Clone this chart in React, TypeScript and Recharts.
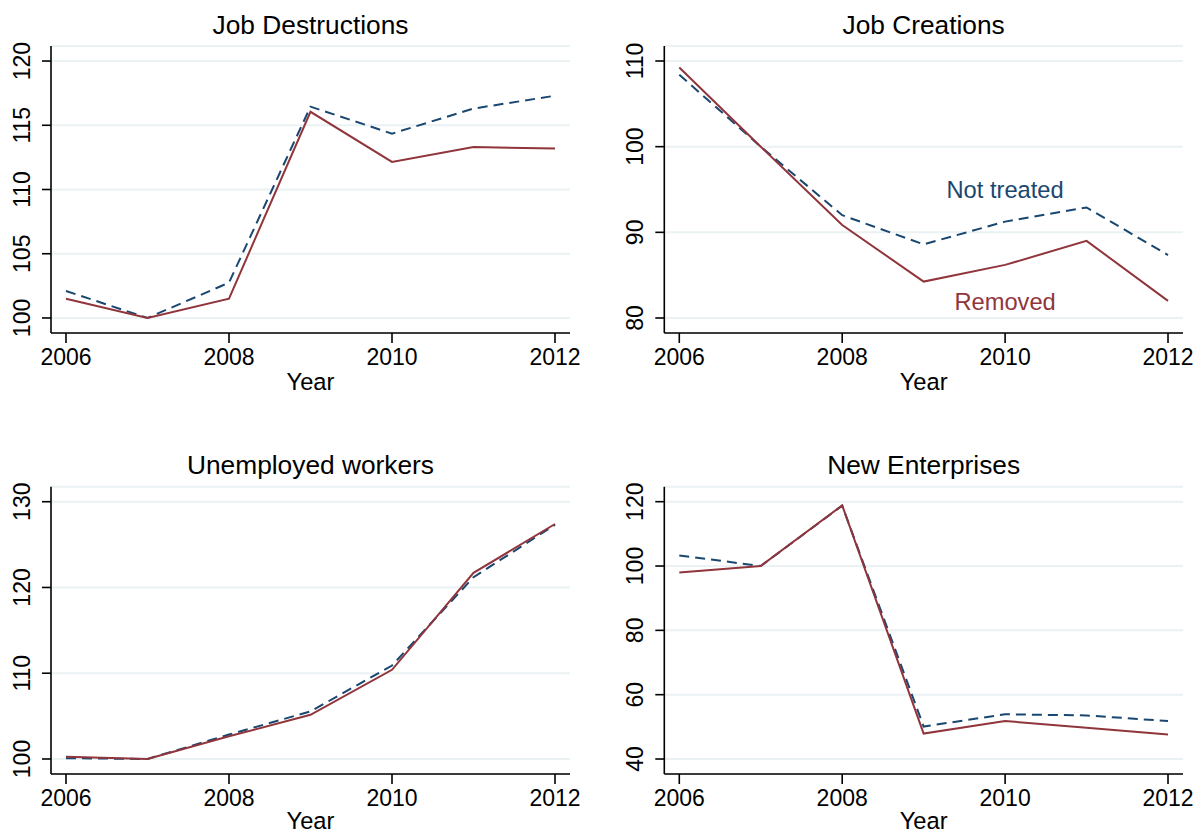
import React from 'react';
import { LineChart, Line, XAxis, YAxis, CartesianGrid, ReferenceDot } from 'recharts';

const years = [2006, 2007, 2008, 2009, 2010, 2011, 2012];
const yearTicks = [2006, 2008, 2010, 2012];

const destructionsNotTreated = [102.1, 100.0, 102.75, 116.45, 114.35, 116.3, 117.3];
const destructionsRemoved = [101.5, 100.0, 101.5, 116.05, 112.15, 113.3, 113.2];
const creationsNotTreated = [108.4, 100.0, 92.0, 88.6, 91.25, 92.9, 87.35];
const creationsRemoved = [109.25, 100.0, 90.85, 84.25, 86.2, 89.0, 82.0];
const unemployedNotTreated = [100.1, 100.0, 102.85, 105.55, 110.9, 121.2, 127.3];
const unemployedRemoved = [100.25, 100.0, 102.65, 105.15, 110.4, 121.7, 127.4];
const enterprisesNotTreated = [103.3, 100.0, 118.75, 50.1, 53.9, 53.55, 51.8];
const enterprisesRemoved = [98.0, 100.0, 118.85, 47.9, 51.8, 49.75, 47.65];

const destructionsTicks = [100, 105, 110, 115, 120];
const creationsTicks = [80, 90, 100, 110];
const unemployedTicks = [100, 110, 120, 130];
const enterprisesTicks = [40, 60, 80, 100, 120];

const NAVY = '#1a476f';
const MAROON = '#90353b';
const GRID = '#eaf2f3';
const FONT = '"Liberation Sans", Arial, Helvetica, sans-serif';

const BOX_W = 600;
const BOX_H = 420;
const Y_AXIS_W = 45;
const X_AXIS_H = 40;

const YTick = (props: any) => {
  const { x, y, payload } = props;
  return (
    <text
      x={0}
      y={0}
      transform={`translate(${x},${y}) rotate(-90)`}
      textAnchor="middle"
      dy="0.36em"
      fontSize={23}
      fontFamily={FONT}
      fill="#000"
    >
      {payload.value}
    </text>
  );
};

interface PanelProps {
  title: string;
  left: number;
  top: number;
  plotLeft: number;
  plotTop: number;
  plotWidth: number;
  plotHeight: number;
  titleY: number;
  yearY: number;
  notTreated: number[];
  removed: number[];
  yDomain: [number, number];
  yTicks: number[];
  annotate?: boolean;
}

const Panel: React.FC<PanelProps> = (p) => {
  const data = years.map((year, i) => ({
    year,
    notTreated: p.notTreated[i],
    removed: p.removed[i],
  }));
  const margin = {
    top: p.plotTop,
    left: p.plotLeft - Y_AXIS_W,
    right: BOX_W - p.plotLeft - p.plotWidth,
    bottom: BOX_H - p.plotTop - p.plotHeight - X_AXIS_H,
  };
  const centerX = p.plotLeft + p.plotWidth / 2;
  const axisLine = { stroke: '#000', strokeWidth: 1.6 };

  return (
    <div style={{ position: 'absolute', left: p.left, top: p.top, width: BOX_W, height: BOX_H }}>
      <div
        style={{
          position: 'absolute',
          left: centerX,
          top: p.titleY,
          transform: 'translate(-50%, -50%)',
          fontFamily: FONT,
          fontSize: 26.3,
          lineHeight: 1,
          whiteSpace: 'nowrap',
          color: '#000',
        }}
      >
        {p.title}
      </div>
      <LineChart width={BOX_W} height={BOX_H} data={data} margin={margin}>
        <CartesianGrid horizontal vertical={false} stroke={GRID} strokeWidth={2} />
        <XAxis
          dataKey="year"
          type="number"
          domain={[2005.816, 2012.184]}
          ticks={yearTicks}
          interval={0}
          allowDataOverflow
          height={X_AXIS_H}
          axisLine={axisLine}
          tickLine={axisLine}
          tickSize={10}
          tickMargin={5.5}
          tick={{ fill: '#000', fontSize: 23, fontFamily: FONT }}
        />
        <YAxis
          type="number"
          domain={p.yDomain}
          ticks={p.yTicks}
          interval={0}
          allowDataOverflow
          width={Y_AXIS_W}
          axisLine={axisLine}
          tickLine={axisLine}
          tickSize={9}
          tickMargin={20.5}
          tick={<YTick />}
        />
        <Line
          type="linear"
          dataKey="notTreated"
          stroke={NAVY}
          strokeWidth={2}
          strokeDasharray="10 6"
          dot={false}
          isAnimationActive={false}
        />
        <Line
          type="linear"
          dataKey="removed"
          stroke={MAROON}
          strokeWidth={2}
          dot={false}
          isAnimationActive={false}
        />
        {p.annotate && (
          <ReferenceDot
            x={2010}
            y={94.94}
            r={1}
            fill="none"
            stroke="none"
            label={{ value: 'Not treated', position: 'center', fill: NAVY, fontSize: 23.7, fontFamily: FONT }}
          />
        )}
        {p.annotate && (
          <ReferenceDot
            x={2010}
            y={81.9}
            r={1}
            fill="none"
            stroke="none"
            label={{ value: 'Removed', position: 'center', fill: MAROON, fontSize: 23.7, fontFamily: FONT }}
          />
        )}
      </LineChart>
      <div
        style={{
          position: 'absolute',
          left: centerX,
          top: p.yearY,
          transform: 'translate(-50%, -50%)',
          fontFamily: FONT,
          fontSize: 23.7,
          lineHeight: 1,
          color: '#000',
        }}
      >
        Year
      </div>
    </div>
  );
};

export default function App() {
  return (
    <div
      style={{
        position: 'absolute',
        left: 0,
        top: 0,
        width: 1198,
        height: 833,
        background: '#fff',
        overflow: 'hidden',
      }}
    >
      <Panel
        title="Job Destructions"
        left={0}
        top={0}
        plotLeft={51}
        plotTop={46}
        plotWidth={519}
        plotHeight={287}
        titleY={25}
        yearY={383}
        notTreated={destructionsNotTreated}
        removed={destructionsRemoved}
        yDomain={[98.83, 121.17]}
        yTicks={destructionsTicks}
      />
      <Panel
        title="Job Creations"
        left={600}
        top={0}
        plotLeft={64.3}
        plotTop={46}
        plotWidth={518.7}
        plotHeight={287}
        titleY={25}
        yearY={383}
        notTreated={creationsNotTreated}
        removed={creationsRemoved}
        yDomain={[78.25, 111.75]}
        yTicks={creationsTicks}
        annotate
      />
      <Panel
        title="Unemployed workers"
        left={0}
        top={420}
        plotLeft={51}
        plotTop={66.7}
        plotWidth={519}
        plotHeight={287.3}
        titleY={45}
        yearY={401.5}
        notTreated={unemployedNotTreated}
        removed={unemployedRemoved}
        yDomain={[98.25, 131.75]}
        yTicks={unemployedTicks}
      />
      <Panel
        title="New Enterprises"
        left={600}
        top={420}
        plotLeft={64.3}
        plotTop={66.7}
        plotWidth={518.7}
        plotHeight={287.3}
        titleY={45}
        yearY={401.5}
        notTreated={enterprisesNotTreated}
        removed={enterprisesRemoved}
        yDomain={[35.34, 124.66]}
        yTicks={enterprisesTicks}
      />
    </div>
  );
}
